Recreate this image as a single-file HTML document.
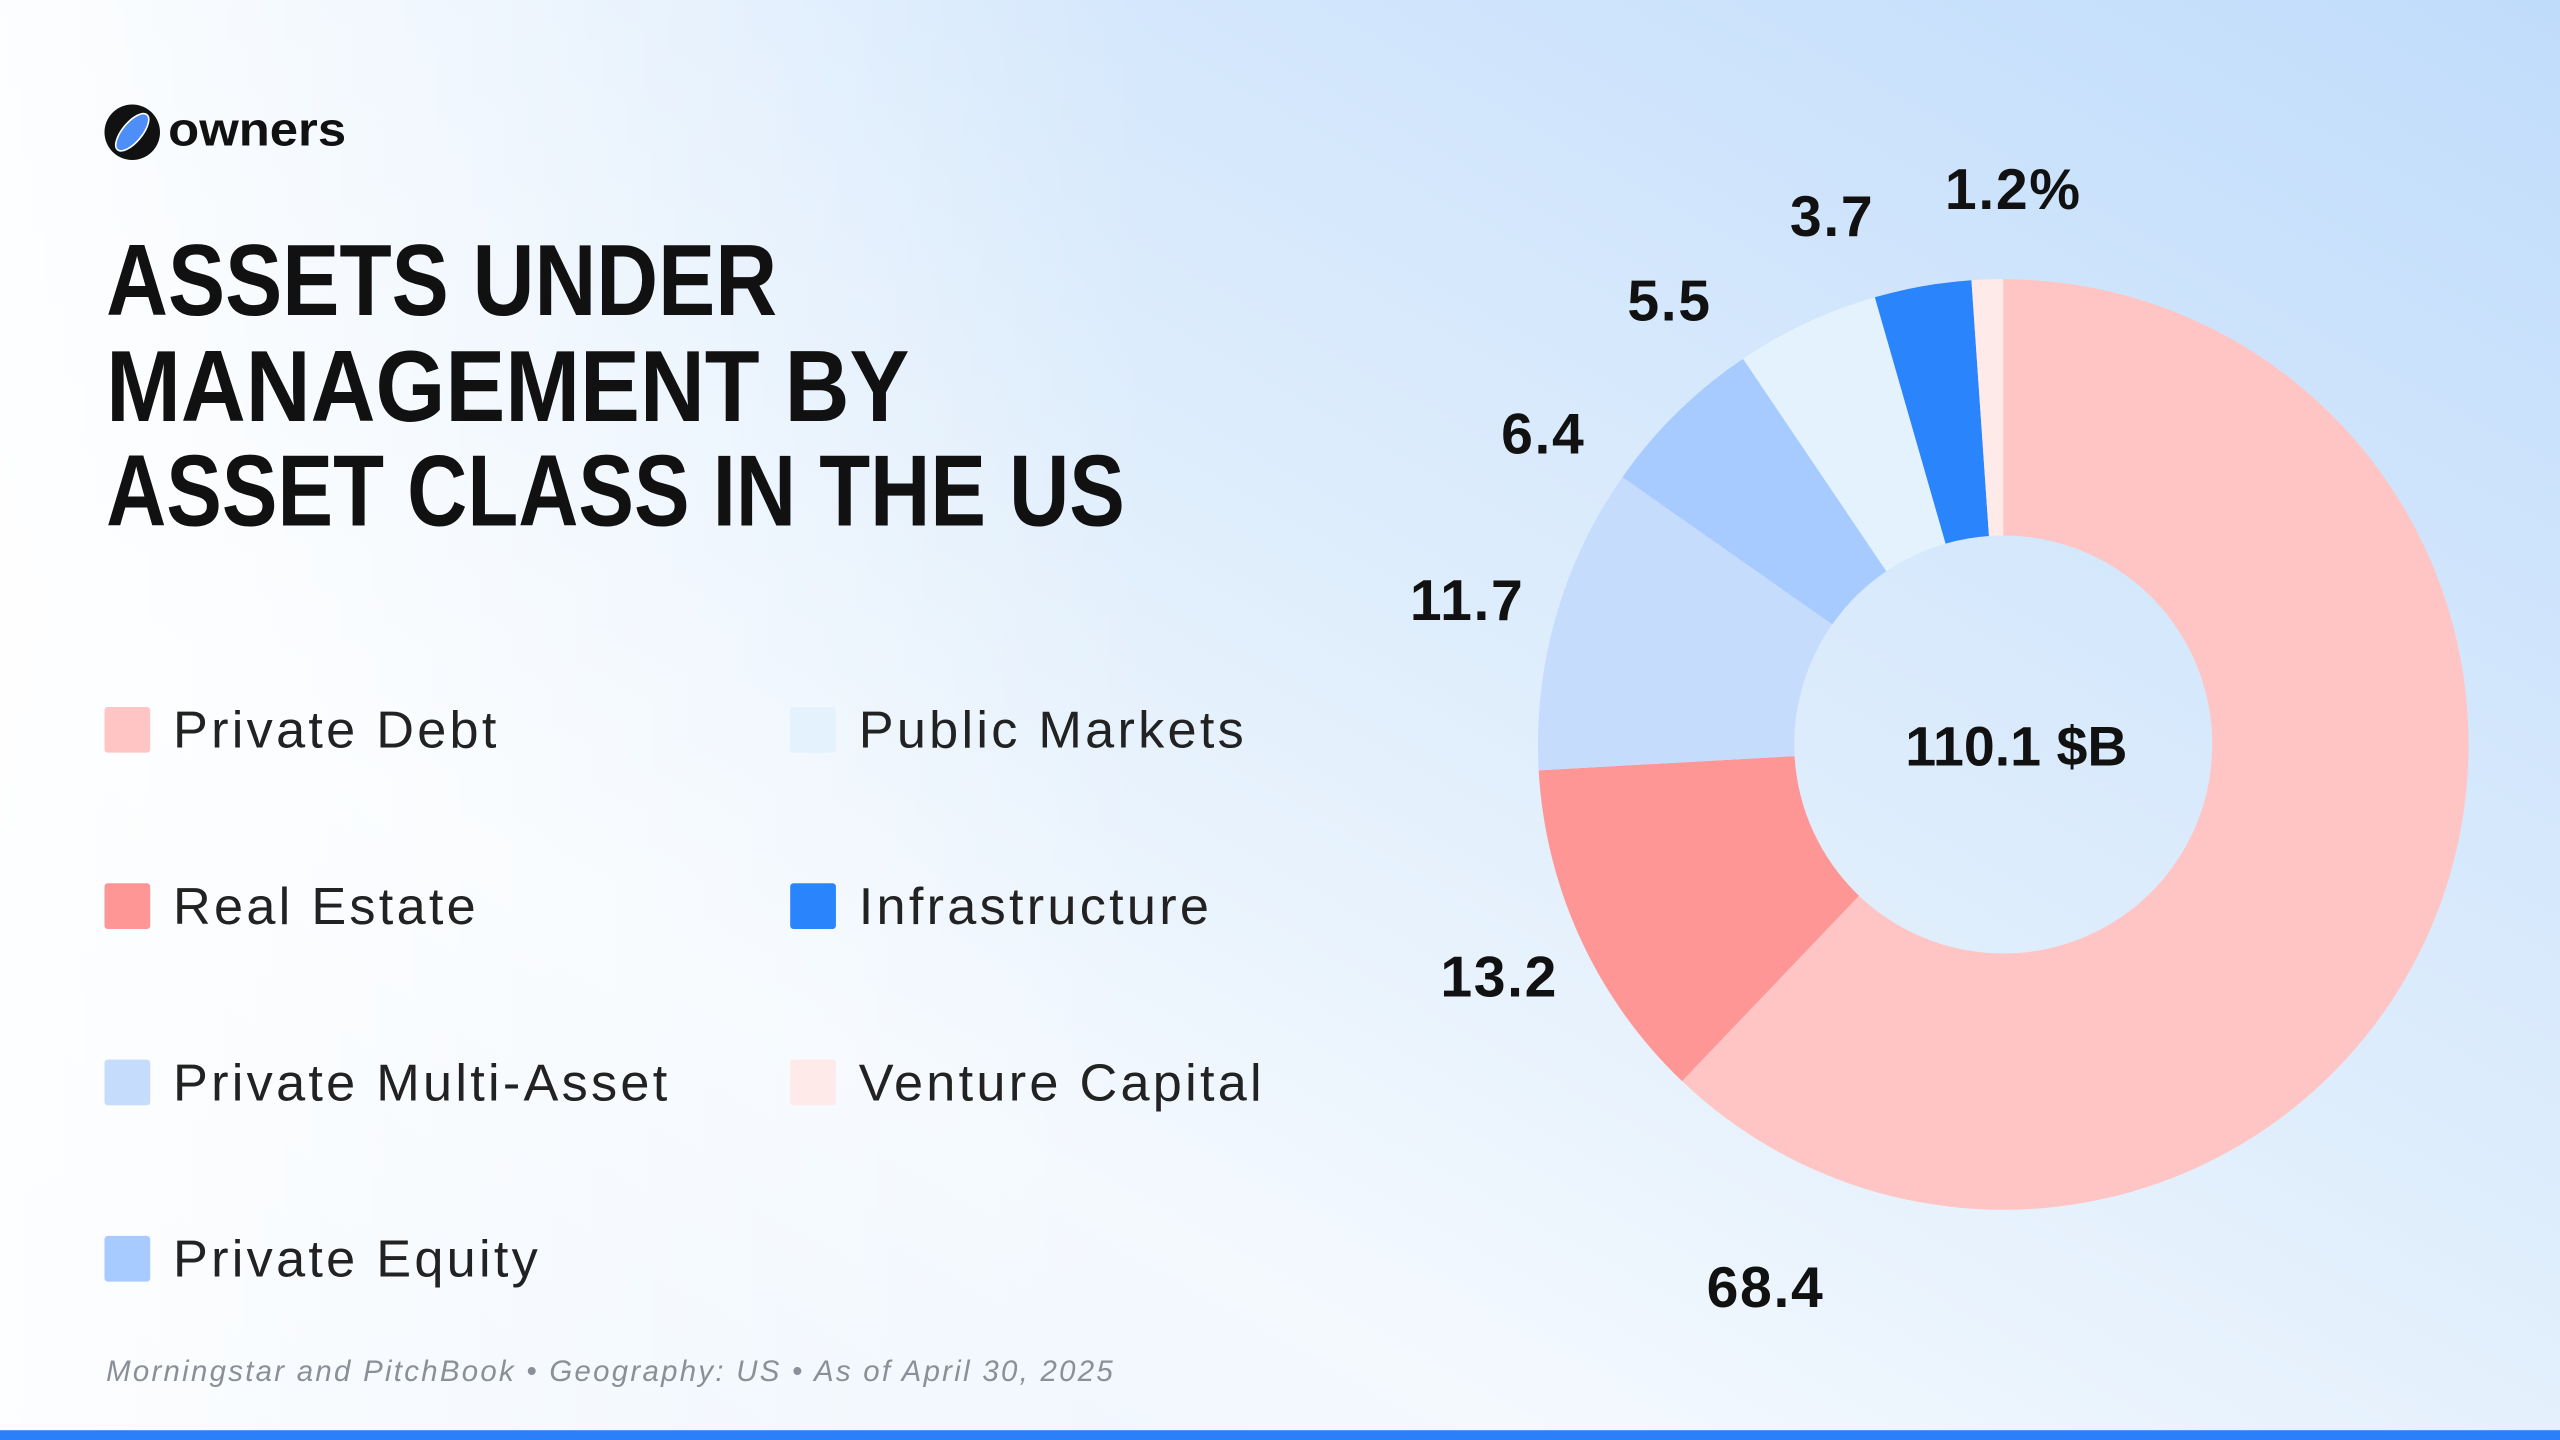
<!DOCTYPE html>
<html><head><meta charset="utf-8"><style>
html,body{margin:0;padding:0;width:2560px;height:1440px;overflow:hidden}
svg{display:block}
</style></head><body>
<svg width="2560" height="1440" viewBox="0 0 1568 882">
<defs>
<linearGradient id="bg" x1="0" y1="1" x2="1" y2="0">
<stop offset="0" stop-color="#e8f2fc"/><stop offset="0.3" stop-color="#f4f9fe"/><stop offset="0.55" stop-color="#e0eefc"/><stop offset="1" stop-color="#c0dcfb"/>
</linearGradient>
<linearGradient id="bg2" x1="0" y1="0" x2="1" y2="0">
<stop offset="0" stop-color="#ffffff" stop-opacity="0.9"/><stop offset="0.45" stop-color="#ffffff" stop-opacity="0"/>
</linearGradient>
</defs>
<rect width="1568" height="882" fill="url(#bg)"/>
<rect width="1568" height="882" fill="url(#bg2)"/>
<rect y="876" width="1568" height="6" fill="#2b7ff8"/>
<g>
<circle cx="81" cy="81" r="17" fill="#111"/>
<ellipse cx="81" cy="81" rx="14" ry="6" transform="rotate(-50 81 81)" fill="#4d8ef8" stroke="#fff" stroke-width="1"/>
<text x="103" y="89" font-family="Liberation Sans, sans-serif" font-weight="bold" font-size="29" fill="#111" textLength="109" lengthAdjust="spacingAndGlyphs">owners</text>
</g>
<g font-family="Liberation Sans, sans-serif" font-weight="bold" font-size="62" fill="#111">
<text x="65" y="193" textLength="411" lengthAdjust="spacingAndGlyphs">ASSETS UNDER</text>
<text x="65" y="258" textLength="492" lengthAdjust="spacingAndGlyphs">MANAGEMENT BY</text>
<text x="65" y="322" textLength="624" lengthAdjust="spacingAndGlyphs">ASSET CLASS IN THE US</text>
</g>
<g id="legend"></g>
<g id="donut"></g>
<text x="65" y="846" font-family="Liberation Sans, sans-serif" font-style="italic" font-size="18" letter-spacing="1.4" fill="#8a8f98">Morningstar and PitchBook • Geography: US • As of April 30, 2025</text>
</svg>
<script>
const categories = ["Private Debt","Real Estate","Private Multi-Asset","Private Equity","Public Markets","Infrastructure","Venture Capital"];
const values = [68.4,13.2,11.7,6.4,5.5,3.7,1.2];
const valueLabels = ["68.4","13.2","11.7","6.4","5.5","3.7","1.2%"];
const totalLabel = "110.1 $B";
const colors = ["#ffc5c5","#ff9696","#c6dcfd","#a8cbff","#e3f2fd","#2a84fc","#ffeaea"];
const NS="http://www.w3.org/2000/svg";
const cx=1227, cy=456, R=285, r0=128, LR=340;
const total=values.reduce((a,b)=>a+b,0);
const ang=v=>v/total*2*Math.PI;
const pt=(a,rad)=>[cx+rad*Math.sin(a), cy-rad*Math.cos(a)];
const donut=document.getElementById('donut');
const DEG=Math.PI/180;
const starts=[], ends=[];
let acc=0;
values.forEach(v=>{starts.push(ang(acc)); acc+=v; ends.push(ang(acc));});
const la=new Array(values.length), lr=new Array(values.length);
for(let i=values.length-1;i>=0;i--){
  const mid=(starts[i]+ends[i])/2;
  lr[i]=LR;
  if(ends[i]-starts[i]>Math.PI){ la[i]=ends[i]-20*DEG; lr[i]=363; }
  else if(i===values.length-1) la[i]=mid+3*DEG;
  else la[i]=Math.min(mid, la[i+1]-19*DEG);
}
values.forEach((v,i)=>{
  const a0=starts[i], a1=ends[i];
  const large=(a1-a0)>Math.PI?1:0;
  const [x0,y0]=pt(a0,R),[x1,y1]=pt(a1,R),[x2,y2]=pt(a1,r0),[x3,y3]=pt(a0,r0);
  const p=document.createElementNS(NS,'path');
  p.setAttribute('d',`M${x0},${y0}A${R},${R} 0 ${large} 1 ${x1},${y1}L${x2},${y2}A${r0},${r0} 0 ${large} 0 ${x3},${y3}Z`);
  p.setAttribute('fill',colors[i]);
  
  
  donut.appendChild(p);
  const [lx,ly]=pt(la[i],lr[i]);
  const t=document.createElementNS(NS,'text');
  t.setAttribute('x',lx); t.setAttribute('y',ly+12);
  t.setAttribute('text-anchor','middle');
  t.setAttribute('font-family','Liberation Sans, sans-serif');
  t.setAttribute('font-weight','bold'); t.setAttribute('font-size','35'); t.setAttribute('letter-spacing','1');
  t.setAttribute('fill','#111');
  t.textContent=valueLabels[i];
  
  
  donut.appendChild(t);
});
const ct=document.createElementNS(NS,'text');
ct.setAttribute('x',1235); ct.setAttribute('y',469); ct.setAttribute('text-anchor','middle');
ct.setAttribute('font-family','Liberation Sans, sans-serif'); ct.setAttribute('font-weight','bold');
ct.setAttribute('font-size','34'); ct.setAttribute('fill','#111');
ct.textContent=totalLabel;


donut.appendChild(ct);
const legend=document.getElementById('legend');
categories.forEach((c,i)=>{
  const col=i<4?0:1, row=i<4?i:i-4;
  const x=col?484:64, y=433+row*108;
  const g=document.createElementNS(NS,'g');
  
  
  const s=document.createElementNS(NS,'rect');
  s.setAttribute('x',x); s.setAttribute('y',y); s.setAttribute('width',28); s.setAttribute('height',28); s.setAttribute('rx',2);
  s.setAttribute('fill',colors[i]);
  const t=document.createElementNS(NS,'text');
  t.setAttribute('x',x+42); t.setAttribute('y',y+25);
  t.setAttribute('font-family','Liberation Sans, sans-serif'); t.setAttribute('font-size','32'); t.setAttribute('letter-spacing','2');
  t.setAttribute('fill','#222');
  t.textContent=c;
  g.appendChild(s); g.appendChild(t); legend.appendChild(g);
});
</script>
</body></html>
